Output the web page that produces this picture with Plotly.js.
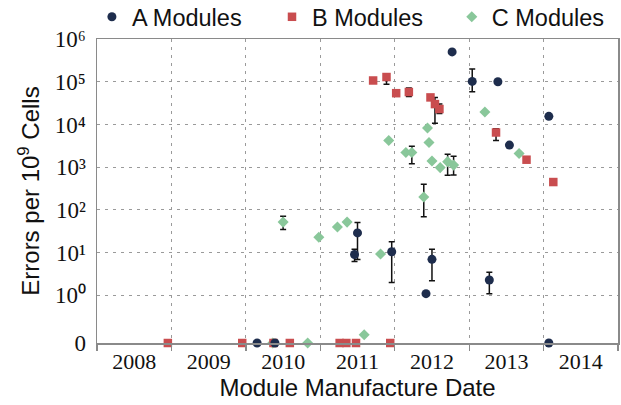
<!DOCTYPE html>
<html><head><meta charset="utf-8">
<script src="https://cdn.plot.ly/plotly-3.0.1.min.js"></script>
<style>html,body{margin:0;padding:0;background:#fff}#chart{width:621px;height:405px}</style>
</head><body><div id="chart"></div>
<script>
// ---- data (decimal manufacture year, errors per 1e9 cells; 0 = no errors) ----
const aYears   = [2010.15, 2010.39, 2011.46, 2011.50, 2011.96, 2012.42, 2012.50, 2012.77, 2013.04, 2013.27, 2013.385, 2013.54, 2014.07, 2014.07];
const aValues  = [0, 0, 9.1, 29, 10.5, 1.1, 7.0, 5.0e5, 1.02e5, 2.3, 1.0e5, 3.3e3, 1.55e4, 0];
const aErrHigh = [NaN, NaN, 12, 51, 18, NaN, 12, NaN, 2.0e5, 3.5, NaN, NaN, NaN, NaN];
const aErrLow  = [NaN, NaN, 6.2, 6.9, 2.0, NaN, 2.2, NaN, 5.8e4, 1.1, NaN, NaN, NaN, NaN];

const bYears   = [2008.95, 2009.95, 2010.37, 2010.59, 2011.26, 2011.35, 2011.48, 2011.71, 2011.89, 2011.94, 2012.02, 2012.19, 2012.48, 2012.54, 2012.60, 2013.36, 2013.77, 2014.13];
const bValues  = [0, 0, 0, 0, 0, 0, 0, 1.07e5, 1.29e5, 0, 5.4e4, 5.75e4, 4.3e4, 3.0e4, 2.3e4, 6.5e3, 1.5e3, 450];
const bErrHigh = [NaN, NaN, NaN, NaN, NaN, NaN, NaN, NaN, 1.48e5, NaN, NaN, 7.1e4, NaN, 4.3e4, 3.0e4, 7.9e3, NaN, NaN];
const bErrLow  = [NaN, NaN, NaN, NaN, NaN, NaN, NaN, NaN, 8.7e4, NaN, NaN, 4.5e4, NaN, 1.07e4, 1.8e4, 4.2e3, NaN, NaN];

const cYears   = [2010.36, 2010.50, 2010.83, 2010.98, 2011.23, 2011.36, 2011.59, 2011.81, 2011.92, 2012.15, 2012.23, 2012.39, 2012.44, 2012.46, 2012.50, 2012.61, 2012.71, 2012.79, 2013.21, 2013.67];
const cValues  = [0, 52, 0, 23, 40, 52, 0.12, 9.3, 4.2e3, 2.2e3, 2.2e3, 200, 8.3e3, 3.8e3, 1.4e3, 980, 1.35e3, 1.12e3, 1.95e4, 2.1e3];
const cErrHigh = [NaN, 71, NaN, NaN, NaN, NaN, NaN, NaN, NaN, NaN, 3.1e3, 400, NaN, NaN, NaN, NaN, 2.0e3, 1.8e3, NaN, NaN];
const cErrLow  = [NaN, 35, NaN, NaN, NaN, NaN, NaN, NaN, NaN, NaN, 1.2e3, 69, NaN, NaN, NaN, NaN, 650, 660, NaN, NaN];

const seriesNames = ['A Modules', 'B Modules', 'C Modules'];
const yTickVals = [0, 1, 10, 100, 1e3, 1e4, 1e5, 1e6];
const yTickText = ['0', '10⁰', '10¹', '10²', '10³', '10⁴', '10⁵', '10⁶'];
const xFirstYear = 2008, xLastYear = 2015;

// ---- helpers ----
const ZERO_LOG = -1.113;              // where the "0" break sits on the log axis
const ZERO_VAL = Math.pow(10, ZERO_LOG);
const mapY = v => v === 0 ? ZERO_VAL : v;
function decYearToDate(y){
  const yr = Math.floor(y);
  const s = Date.UTC(yr,0,1), e = Date.UTC(yr+1,0,1);
  const d = new Date(s + (y-yr)*(e-s));
  const p = n => String(n).padStart(2,'0');
  return d.getUTCFullYear()+'-'+p(d.getUTCMonth()+1)+'-'+p(d.getUTCDate())+' '+p(d.getUTCHours())+':'+p(d.getUTCMinutes());
}
function makeTrace(name, years, vals, hi, lo, symbol, color, size, legendId){
  const y = vals.map(mapY);
  return {
    type:'scatter', mode:'markers', name:name, legend:legendId,
    x: years.map(decYearToDate), y: y, cliponaxis:false,
    marker:{symbol:symbol, color:color, size:size, line:{width:0}},
    error_y:{type:'data', symmetric:false,
      array: hi.map((h,i)=> isNaN(h) ? NaN : h - y[i]),
      arrayminus: lo.map((l,i)=> isNaN(l) ? NaN : y[i] - l),
      color:'#111', thickness:1.5, width:3}
  };
}
const traces = [
  makeTrace(seriesNames[2], cYears, cValues, cErrHigh, cErrLow, 'diamond', '#89c79a', 8.5, 'legend3'),
  makeTrace(seriesNames[1], bYears, bValues, bErrHigh, bErrLow, 'square', '#c94d4f', 8.5, 'legend2'),
  makeTrace(seriesNames[0], aYears, aValues, aErrHigh, aErrLow, 'circle', '#1e2d4d', 9, 'legend')
];
const sans = 'Liberation Sans, Arial, sans-serif';
const serif = 'Liberation Serif, Times New Roman, serif';
const legendBase = {orientation:'h', xref:'container', yref:'container', xanchor:'left', y:0.958, yanchor:'middle',
  font:{family:sans, size:23.5, color:'#111'}, bgcolor:'rgba(0,0,0,0)'};
const layout = {
  width:621, height:405,
  margin:{l:97, r:3, t:36, b:62},
  paper_bgcolor:'#fff', plot_bgcolor:'#fff',
  showlegend:true,
  legend:  Object.assign({}, legendBase, {x:0.148}),
  legend2: Object.assign({}, legendBase, {x:0.438}),
  legend3: Object.assign({}, legendBase, {x:0.7275}),
  xaxis:{type:'date', range:[decYearToDate(xFirstYear), decYearToDate(xLastYear)],
    tick0:decYearToDate(xFirstYear), dtick:'M12', ticklabelmode:'period', tickformat:'%Y',
    showgrid:true, gridcolor:'#9a9a9a', griddash:'3px,5px', gridwidth:1,
    showline:true, linecolor:'#8a8a8a', linewidth:1.5, mirror:true,
    ticks:'outside', ticklen:6, tickcolor:'#8a8a8a', tickwidth:1.5, ticklabelstandoff:-8,
    tickfont:{family:serif, size:22, color:'#111'}, zeroline:false,
    title:{text:'Module Manufacture Date', font:{family:sans, size:24, color:'#111'}, standoff:4}},
  yaxis:{type:'log', range:[ZERO_LOG, 6], tickmode:'array',
    tickvals:yTickVals.map(mapY), ticktext:yTickText,
    showgrid:true, gridcolor:'#9a9a9a', griddash:'3px,5px', gridwidth:1,
    showline:true, linecolor:'#8a8a8a', linewidth:1.5, mirror:true, ticks:'', ticklabelstandoff:5,
    tickfont:{family:serif, size:23, color:'#111'}, zeroline:false,
    title:{text:'Errors per 10<sup>9</sup> Cells', font:{family:sans, size:24, color:'#111'}, standoff:8}}
};
Plotly.newPlot('chart', traces, layout, {displayModeBar:false, staticPlot:true});
</script></body></html>
